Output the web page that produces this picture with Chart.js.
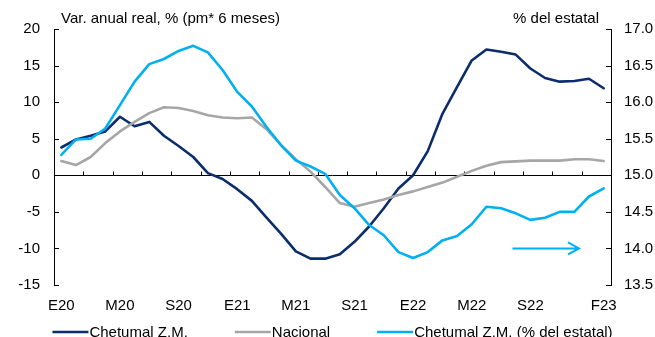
<!DOCTYPE html>
<html>
<head>
<meta charset="utf-8">
<script src="https://cdn.jsdelivr.net/npm/chart.js@4.4.1/dist/chart.umd.min.js"></script>
<style>
  html, body { margin: 0; padding: 0; background: #fff; }
  #wrap { width: 655px; height: 337px; }
</style>
</head>
<body>
<div id="wrap"><canvas id="grafica"></canvas></div>
<script>
// Meses (E20 .. F23)
const meses = [
  'E20','F20','M20','A20','M20','J20','J20','A20','S20','O20','N20','D20',
  'E21','F21','M21','A21','M21','J21','J21','A21','S21','O21','N21','D21',
  'E22','F22','M22','A22','M22','J22','J22','A22','S22','O22','N22','D22',
  'E23','F23'
];

// Var. anual real, % (eje izquierdo)
const chetumal = [3.8, 4.9, 5.4, 6.0, 8.0, 6.7, 7.3, 5.4, 4.0, 2.5, 0.3, -0.5,
  -1.9, -3.5, -5.8, -8.0, -10.4, -11.4, -11.4, -10.8, -9.1, -7.0, -4.5, -1.8,
  0.0, 3.3, 8.4, 12.1, 15.7, 17.2, 16.9, 16.5, 14.6, 13.3, 12.8, 12.9, 13.2, 11.9];
const nacional = [1.95, 1.4, 2.5, 4.4, 6.0, 7.3, 8.5, 9.3, 9.2, 8.8, 8.2, 7.9,
  7.8, 7.9, 6.3, 4.1, 2.2, 0.5, -1.6, -3.8, -4.3, -3.8, -3.3, -2.7,
  -2.2, -1.6, -1.0, -0.2, 0.6, 1.3, 1.8, 1.9, 2.0, 2.0, 2.0, 2.2, 2.2, 1.95];

// % del estatal (eje derecho)
const participacion = [15.28, 15.49, 15.50, 15.64, 15.96, 16.28, 16.52, 16.59, 16.70, 16.77, 16.68, 16.44,
  16.14, 15.94, 15.66, 15.41, 15.20, 15.12, 15.02, 14.73, 14.55, 14.32, 14.18, 13.95,
  13.87, 13.95, 14.11, 14.17, 14.33, 14.57, 14.55, 14.48, 14.39, 14.42, 14.50, 14.50, 14.71, 14.82];

// flecha que indica el eje derecho
const flecha = { desde: 30.78, hasta: 35.32, valor: 14.0 };

const fuente = "15px 'Liberation Sans', Arial, sans-serif";
const azulOscuro = '#0B2D6B';
const gris = '#A6A6A6';
const azulClaro = '#00B0F0';

// Ejes con marcas hacia adentro, línea del cero, títulos, flecha y leyenda
const decoraciones = {
  id: 'decoraciones',
  beforeDatasetsDraw(chart) {
    const { ctx, chartArea, scales } = chart;
    const x = scales.x, yi = scales.y, yd = scales.y2;
    ctx.save();
    ctx.strokeStyle = '#000';
    ctx.lineWidth = 1;

    // marcas del eje izquierdo
    yi.ticks.forEach(t => {
      const py = Math.round(yi.getPixelForValue(t.value)) + 0.5;
      ctx.beginPath();
      ctx.moveTo(chartArea.left, py);
      ctx.lineTo(chartArea.left + 5, py);
      ctx.stroke();
    });
    // marcas del eje derecho
    yd.ticks.forEach(t => {
      const py = Math.round(yd.getPixelForValue(t.value)) + 0.5;
      ctx.beginPath();
      ctx.moveTo(chartArea.right, py);
      ctx.lineTo(chartArea.right - 5, py);
      ctx.stroke();
    });

    // línea del cero con marcas cada dos meses
    const y0 = Math.round(yi.getPixelForValue(0)) + 0.5;
    ctx.beginPath();
    ctx.moveTo(chartArea.left, y0);
    ctx.lineTo(chartArea.right, y0);
    ctx.stroke();
    for (let k = 0; k <= meses.length; k += 2) {
      const px = Math.round(x.getPixelForValue(k - 0.5)) + 0.5;
      ctx.beginPath();
      ctx.moveTo(px, y0);
      ctx.lineTo(px, y0 - 4);
      ctx.stroke();
    }
    ctx.restore();
  },
  afterDraw(chart) {
    const { ctx, chartArea, scales } = chart;
    ctx.save();
    ctx.font = fuente;
    ctx.fillStyle = '#000';
    ctx.textBaseline = 'middle';

    // títulos de los ejes
    ctx.textAlign = 'left';
    ctx.fillText('Var. anual real, % (pm* 6 meses)', chartArea.left + 7, 19);
    ctx.textAlign = 'right';
    ctx.fillText('% del estatal', chartArea.right - 12, 19);

    // flecha
    const x1 = scales.x.getPixelForValue(flecha.desde);
    const x2 = scales.x.getPixelForValue(flecha.hasta);
    const fy = scales.y2.getPixelForValue(flecha.valor);
    ctx.strokeStyle = azulClaro;
    ctx.lineWidth = 2;
    ctx.beginPath();
    ctx.moveTo(x1, fy);
    ctx.lineTo(x2, fy);
    ctx.moveTo(x2 - 11, fy - 6);
    ctx.lineTo(x2, fy);
    ctx.lineTo(x2 - 11, fy + 6);
    ctx.stroke();

    // leyenda
    const largo = 36, hueco = 1, sep = 47;
    const items = chart.data.datasets.map(d => ({
      texto: d.label, color: d.borderColor, ancho: ctx.measureText(d.label).width
    }));
    const total = items.reduce((s, it) => s + largo + hueco + it.ancho, 0) + sep * (items.length - 1);
    let lx = (chartArea.left + chartArea.right) / 2 - total / 2;
    const ly = 332;
    ctx.textAlign = 'left';
    items.forEach(it => {
      ctx.strokeStyle = it.color;
      ctx.lineWidth = 2.5;
      ctx.beginPath();
      ctx.moveTo(lx, ly);
      ctx.lineTo(lx + largo, ly);
      ctx.stroke();
      ctx.fillStyle = '#000';
      ctx.fillText(it.texto, lx + largo + hueco, ly + 1);
      lx += largo + hueco + it.ancho + sep;
    });
    ctx.restore();
  }
};

new Chart(document.getElementById('grafica'), {
  type: 'line',
  data: {
    labels: meses,
    datasets: [
      {
        label: 'Chetumal Z.M.',
        data: chetumal,
        yAxisID: 'y',
        borderColor: azulOscuro,
        backgroundColor: azulOscuro,
        borderWidth: 2.6,
        pointRadius: 0,
        order: 3
      },
      {
        label: 'Nacional',
        data: nacional,
        yAxisID: 'y',
        borderColor: gris,
        backgroundColor: gris,
        borderWidth: 2.6,
        pointRadius: 0,
        order: 2
      },
      {
        label: 'Chetumal Z.M. (% del estatal)',
        data: participacion,
        yAxisID: 'y2',
        borderColor: azulClaro,
        backgroundColor: azulClaro,
        borderWidth: 2.6,
        pointRadius: 0,
        order: 1
      }
    ]
  },
  options: {
    responsive: true,
    maintainAspectRatio: false,
    animation: false,
    devicePixelRatio: 1,
    elements: { line: { tension: 0, borderJoinStyle: 'round', borderCapStyle: 'round' } },
    layout: { padding: { top: 29, bottom: 0, left: 0, right: 0 } },
    plugins: {
      legend: { display: false },
      tooltip: { enabled: false }
    },
    scales: {
      x: {
        type: 'category',
        offset: true,
        grid: { display: false, drawTicks: false },
        border: { display: false },
        ticks: {
          autoSkip: false,
          maxRotation: 0,
          padding: 12,
          color: '#000',
          font: { family: "'Liberation Sans', Arial, sans-serif", size: 15 },
          callback: function (value, index) {
            if ((index % 4 === 0 && index <= 32) || index === meses.length - 1) return meses[index];
            return '';
          }
        },
        afterFit(scale) { scale.height = 52; }
      },
      y: {
        position: 'left',
        min: -15,
        max: 20,
        grid: { display: true, drawOnChartArea: false, drawTicks: false },
        border: { display: true, color: '#000', width: 1 },
        ticks: {
          stepSize: 5,
          padding: 14,
          color: '#000',
          font: { family: "'Liberation Sans', Arial, sans-serif", size: 15 }
        },
        afterFit(scale) { scale.width = 54; }
      },
      y2: {
        position: 'right',
        min: 13.5,
        max: 17,
        grid: { display: true, drawOnChartArea: false, drawTicks: false },
        border: { display: true, color: '#000', width: 1 },
        ticks: {
          stepSize: 0.5,
          padding: 13,
          color: '#000',
          font: { family: "'Liberation Sans', Arial, sans-serif", size: 15 },
          callback: v => v.toFixed(1)
        },
        afterFit(scale) { scale.width = 44; }
      }
    }
  },
  plugins: [decoraciones]
});
</script>
</body>
</html>
